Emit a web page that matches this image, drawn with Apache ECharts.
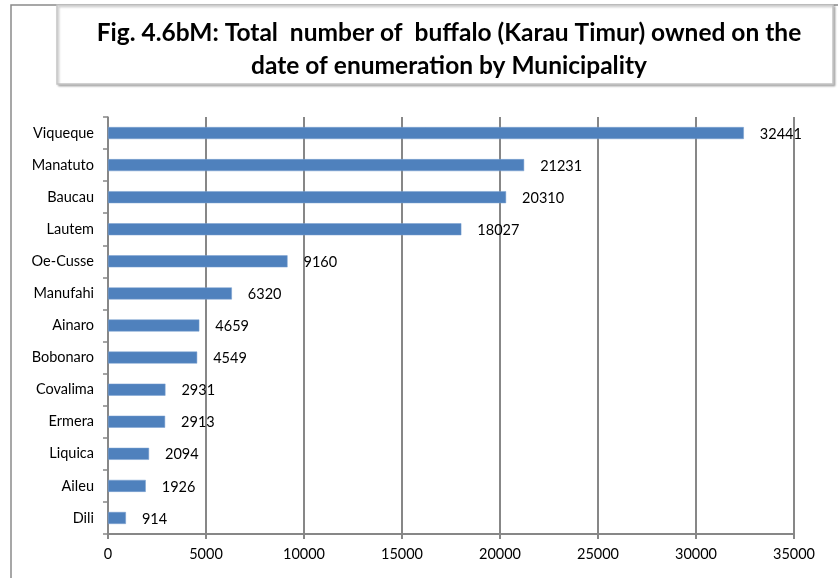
<!DOCTYPE html>
<html>
<head>
<meta charset="utf-8">
<script src="https://cdn.jsdelivr.net/npm/echarts@6/dist/echarts.min.js"></script>
<style>
  html, body { margin: 0; padding: 0; background: #fff; }
  #chart { width: 838px; height: 578px; }
</style>
</head>
<body>
<div id="chart"></div>
<script>
// Municipalities, listed top to bottom
const municipalities = ['Viqueque', 'Manatuto', 'Baucau', 'Lautem', 'Oe-Cusse', 'Manufahi',
  'Ainaro', 'Bobonaro', 'Covalima', 'Ermera', 'Liquica', 'Aileu', 'Dili'];
// Buffalo (Karau Timur) counts
const buffaloCounts = [32441, 21231, 20310, 18027, 9160, 6320, 4659, 4549, 2931, 2913, 2094, 1926, 914];
// Value axis range
const axisMin = 0;
const axisMax = 35000;
const axisStep = 5000;

const titleLines = [
  'Fig. 4.6bM: Total  number of  buffalo (Karau Timur) owned on the',
  'date of enumeration by Municipality'
];

const font = 'Lato, "Open Sans", "Liberation Sans", sans-serif';
const chart = echarts.init(document.getElementById('chart'), null, { renderer: 'canvas' });

chart.setOption({
  animation: false,
  backgroundColor: '#ffffff',
  graphic: [
    {
      type: 'rect', z: 0, silent: true,
      shape: { x: 11, y: 5, width: 900, height: 700 },
      style: { fill: 'none', stroke: '#8a8a8a', lineWidth: 1.5 }
    },
    {
      type: 'rect', z: 1, silent: true,
      shape: { x: 57, y: 5, width: 776, height: 79 },
      style: {
        fill: '#ffffff', stroke: '#c4c4c4', lineWidth: 1.5,
        shadowColor: 'rgba(0,0,0,0.25)', shadowBlur: 2, shadowOffsetX: 1.5, shadowOffsetY: 1.5
      }
    },
    {
      type: 'text', z: 2, silent: true,
      x: 449, y: 17,
      style: {
        text: titleLines.join('\n'),
        font: 'bold 24.5px ' + font,
        fill: '#000000', align: 'center', verticalAlign: 'top', lineHeight: 33
      }
    }
  ],
  grid: { left: 108, right: 44, top: 117, bottom: 44, containLabel: false },
  xAxis: {
    type: 'value', min: axisMin, max: axisMax, interval: axisStep,
    axisLine: { show: true, lineStyle: { color: '#878787', width: 2 } },
    axisTick: { show: true, inside: false, length: 5, lineStyle: { color: '#878787', width: 2 } },
    axisLabel: { color: '#000', fontSize: 14.5, fontFamily: font, margin: 13, formatter: v => String(v) },
    splitLine: { show: true, lineStyle: { color: '#878787', width: 2 } }
  },
  yAxis: {
    type: 'category', data: municipalities, inverse: true,
    axisLine: { show: true, lineStyle: { color: '#878787', width: 1.5 } },
    axisTick: { show: true, inside: false, length: 5, lineStyle: { color: '#878787', width: 1.5 } },
    axisLabel: { color: '#000', fontSize: 14.5, fontFamily: font, margin: 14 },
    splitLine: { show: false }
  },
  series: [{
    type: 'bar',
    data: buffaloCounts,
    barWidth: 12,
    itemStyle: { color: '#4f81bd', borderColor: '#7ba0d0', borderWidth: 0.5 },
    label: {
      show: true, position: 'right', distance: 16,
      color: '#000', fontSize: 14.5, fontFamily: font, offset: [0, 1]
    }
  }]
});
</script>
</body>
</html>
